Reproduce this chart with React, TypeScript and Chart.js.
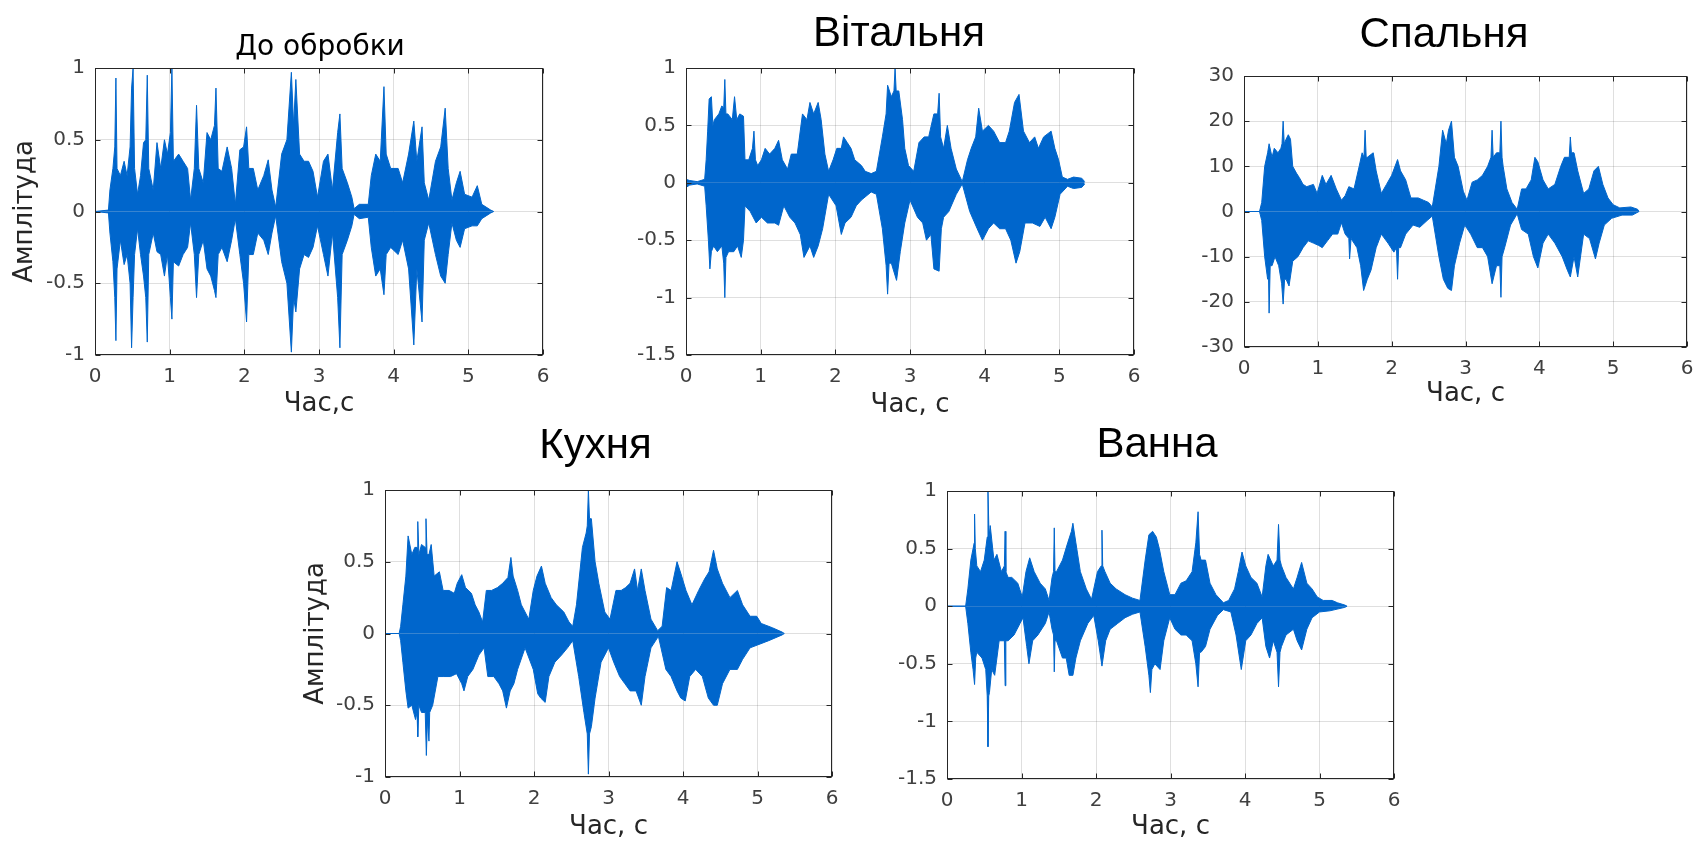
import React, { useEffect, useRef } from "react";
import { Chart, registerables } from "chart.js";

Chart.register(...registerables);

type Pair = [number, number];

const TITLE_FONT = "'Liberation Sans', Arial, Helvetica, sans-serif";
const AXIS_FONT = "'DejaVu Sans', 'Liberation Sans', Arial, sans-serif";
const WAVE = "#0066cc";
const GRID = "rgba(38,38,38,0.15)";
const TICK_COLOR = "#404040";

const xTickMin = 0;
const xTickMax = 6;
const xTickStep = 1;

const titles = ["До обробки", "Вітальня", "Спальня", "Кухня", "Ванна"];
const xLabels = ["Час,с", "Час, с", "Час, с", "Час, с", "Час, с"];
const yLabels = ["Амплітуда", "", "", "Амплітуда", ""];
const yMins = [-1, -1.5, -30, -1, -1.5];
const yMaxs = [1, 1, 30, 1, 1];
const ySteps = [0.5, 0.5, 10, 0.5, 0.5];

// ---- До обробки (upper / lower envelope: [time s, amplitude]) ----
const p1Top: Pair[] = [[0,0],[0.18,0.01],[0.2,0.15],[0.24,0.3],[0.265,0.45],[0.28,0.93],[0.295,0.3],[0.34,0.25],[0.39,0.35],[0.43,0.25],[0.47,0.45],[0.49,0.86],[0.51,1.0],[0.53,0.3],[0.57,0.12],[0.61,0.25],[0.65,0.48],[0.68,0.5],[0.7,0.95],[0.72,0.3],[0.78,0.15],[0.83,0.48],[0.88,0.3],[0.93,0.5],[0.97,0.4],[1.01,0.55],[1.03,1.0],[1.05,0.35],[1.12,0.4],[1.18,0.35],[1.24,0.3],[1.28,0.08],[1.33,0.3],[1.36,0.74],[1.39,0.3],[1.45,0.2],[1.5,0.55],[1.55,0.5],[1.6,0.6],[1.62,0.86],[1.65,0.3],[1.7,0.28],[1.77,0.45],[1.83,0.3],[1.88,0.05],[1.94,0.43],[1.99,0.45],[2.03,0.59],[2.06,0.3],[2.12,0.3],[2.18,0.15],[2.26,0.25],[2.32,0.36],[2.37,0.15],[2.42,0.03],[2.5,0.4],[2.57,0.5],[2.63,0.97],[2.66,0.6],[2.69,0.92],[2.74,0.4],[2.8,0.35],[2.86,0.35],[2.92,0.28],[2.98,0.1],[3.06,0.35],[3.12,0.4],[3.18,0.15],[3.25,0.55],[3.28,0.68],[3.31,0.3],[3.38,0.2],[3.44,0.1],[3.47,0.02],[3.54,0.05],[3.66,0.05],[3.7,0.25],[3.76,0.4],[3.82,0.35],[3.87,0.87],[3.9,0.4],[3.96,0.3],[4.06,0.3],[4.12,0.2],[4.2,0.4],[4.27,0.63],[4.31,0.35],[4.38,0.59],[4.41,0.2],[4.47,0.08],[4.56,0.35],[4.63,0.45],[4.69,0.72],[4.73,0.3],[4.78,0.08],[4.84,0.2],[4.89,0.28],[4.95,0.12],[5.05,0.1],[5.12,0.18],[5.18,0.05],[5.3,0.01],[5.34,0]];
const p1Bot: Pair[] = [[0,0],[0.18,-0.01],[0.2,-0.15],[0.24,-0.35],[0.265,-0.6],[0.28,-0.9],[0.295,-0.4],[0.34,-0.2],[0.39,-0.37],[0.43,-0.3],[0.47,-0.5],[0.49,-0.95],[0.51,-0.6],[0.53,-0.3],[0.57,-0.12],[0.61,-0.3],[0.65,-0.45],[0.68,-0.6],[0.7,-0.91],[0.72,-0.3],[0.78,-0.15],[0.83,-0.28],[0.88,-0.3],[0.93,-0.45],[0.97,-0.3],[1.01,-0.6],[1.03,-0.75],[1.05,-0.35],[1.12,-0.38],[1.18,-0.3],[1.24,-0.25],[1.28,-0.08],[1.33,-0.3],[1.36,-0.6],[1.39,-0.3],[1.45,-0.2],[1.5,-0.4],[1.55,-0.45],[1.6,-0.55],[1.62,-0.6],[1.65,-0.3],[1.7,-0.25],[1.77,-0.35],[1.83,-0.2],[1.88,-0.05],[1.94,-0.3],[1.99,-0.5],[2.03,-0.77],[2.06,-0.3],[2.12,-0.3],[2.18,-0.15],[2.26,-0.2],[2.32,-0.3],[2.37,-0.15],[2.42,-0.03],[2.5,-0.35],[2.57,-0.5],[2.63,-0.98],[2.66,-0.6],[2.69,-0.7],[2.74,-0.4],[2.8,-0.3],[2.86,-0.32],[2.92,-0.25],[2.98,-0.1],[3.06,-0.3],[3.12,-0.45],[3.18,-0.15],[3.25,-0.6],[3.28,-0.95],[3.31,-0.3],[3.38,-0.2],[3.44,-0.1],[3.47,-0.02],[3.54,-0.05],[3.66,-0.04],[3.7,-0.25],[3.76,-0.45],[3.82,-0.4],[3.87,-0.58],[3.9,-0.3],[3.96,-0.25],[4.06,-0.3],[4.12,-0.2],[4.2,-0.4],[4.27,-0.93],[4.31,-0.4],[4.38,-0.77],[4.41,-0.2],[4.47,-0.08],[4.56,-0.3],[4.63,-0.45],[4.69,-0.5],[4.73,-0.3],[4.78,-0.08],[4.84,-0.2],[4.89,-0.25],[4.95,-0.12],[5.05,-0.1],[5.12,-0.1],[5.18,-0.05],[5.3,-0.01],[5.34,0]];

// ---- Вітальня ----
const p2Top: Pair[] = [[0,0.03],[0.05,0.02],[0.15,0.01],[0.25,0.03],[0.27,0.2],[0.29,0.45],[0.31,0.73],[0.34,0.75],[0.36,0.5],[0.38,0.55],[0.44,0.6],[0.48,0.67],[0.505,0.65],[0.52,0.9],[0.535,0.6],[0.56,0.6],[0.62,0.55],[0.65,0.75],[0.68,0.55],[0.72,0.6],[0.77,0.58],[0.79,0.2],[0.84,0.2],[0.89,0.3],[0.91,0.45],[0.93,0.2],[0.96,0.15],[1.01,0.2],[1.06,0.3],[1.12,0.25],[1.19,0.3],[1.24,0.37],[1.29,0.2],[1.36,0.12],[1.41,0.25],[1.49,0.25],[1.56,0.6],[1.62,0.55],[1.66,0.7],[1.71,0.6],[1.77,0.7],[1.81,0.55],[1.86,0.25],[1.91,0.1],[1.97,0.2],[2.02,0.3],[2.08,0.3],[2.11,0.4],[2.16,0.35],[2.21,0.3],[2.26,0.2],[2.35,0.15],[2.4,0.1],[2.48,0.08],[2.55,0.1],[2.63,0.4],[2.68,0.6],[2.7,0.85],[2.75,0.75],[2.785,0.8],[2.8,1.0],[2.815,0.8],[2.85,0.8],[2.9,0.55],[2.93,0.3],[2.98,0.15],[3.05,0.1],[3.12,0.35],[3.19,0.4],[3.25,0.4],[3.32,0.6],[3.37,0.6],[3.39,0.78],[3.41,0.4],[3.45,0.3],[3.5,0.5],[3.55,0.3],[3.62,0.12],[3.7,0.01],[3.77,0.2],[3.82,0.3],[3.88,0.4],[3.92,0.65],[3.97,0.45],[4.05,0.5],[4.12,0.45],[4.2,0.35],[4.28,0.35],[4.33,0.45],[4.4,0.7],[4.46,0.77],[4.52,0.45],[4.6,0.35],[4.67,0.4],[4.72,0.3],[4.79,0.4],[4.89,0.45],[4.94,0.3],[4.99,0.2],[5.04,0.05],[5.11,0.03],[5.19,0.05],[5.3,0.04],[5.34,0.01]];
const p2Bot: Pair[] = [[0,-0.04],[0.05,-0.02],[0.15,-0.01],[0.25,-0.03],[0.27,-0.2],[0.3,-0.5],[0.32,-0.75],[0.34,-0.6],[0.37,-0.55],[0.42,-0.6],[0.48,-0.55],[0.505,-0.7],[0.52,-1.0],[0.535,-0.65],[0.57,-0.6],[0.64,-0.6],[0.69,-0.55],[0.74,-0.65],[0.77,-0.5],[0.79,-0.2],[0.86,-0.25],[0.94,-0.35],[1.01,-0.3],[1.09,-0.35],[1.19,-0.35],[1.24,-0.37],[1.31,-0.2],[1.39,-0.3],[1.46,-0.35],[1.53,-0.45],[1.58,-0.65],[1.66,-0.55],[1.71,-0.65],[1.77,-0.55],[1.83,-0.4],[1.91,-0.1],[2.01,-0.2],[2.08,-0.45],[2.13,-0.35],[2.21,-0.3],[2.28,-0.2],[2.35,-0.15],[2.48,-0.08],[2.55,-0.1],[2.63,-0.4],[2.68,-0.72],[2.7,-0.97],[2.72,-0.7],[2.75,-0.7],[2.82,-0.85],[2.87,-0.6],[2.93,-0.35],[3.0,-0.15],[3.1,-0.3],[3.17,-0.35],[3.22,-0.5],[3.28,-0.45],[3.32,-0.75],[3.39,-0.77],[3.42,-0.4],[3.45,-0.3],[3.52,-0.25],[3.62,-0.1],[3.7,-0.01],[3.8,-0.25],[3.9,-0.4],[3.97,-0.5],[4.05,-0.4],[4.12,-0.35],[4.2,-0.4],[4.28,-0.4],[4.35,-0.5],[4.42,-0.7],[4.47,-0.6],[4.54,-0.35],[4.64,-0.35],[4.74,-0.38],[4.81,-0.3],[4.89,-0.4],[4.94,-0.3],[5.01,-0.1],[5.11,-0.03],[5.19,-0.05],[5.3,-0.04],[5.34,-0.01]];

// ---- Спальня ----
const p3Top: Pair[] = [[0,0],[0.21,0],[0.24,2],[0.28,10],[0.32,13],[0.34,15],[0.38,12],[0.41,14],[0.46,13],[0.5,14],[0.515,15],[0.53,20],[0.545,15],[0.57,16],[0.6,17],[0.63,16],[0.66,10],[0.71,8.5],[0.75,7.5],[0.8,6],[0.85,5.5],[0.94,6],[0.99,4],[1.06,8],[1.11,6],[1.18,8],[1.25,5],[1.32,2.5],[1.37,3.5],[1.42,5.5],[1.49,5],[1.56,10],[1.6,13],[1.625,12],[1.64,18],[1.655,12],[1.67,12],[1.75,13],[1.79,9],[1.86,4],[1.93,6],[2.0,8],[2.08,11.5],[2.12,9],[2.19,7],[2.26,3],[2.36,3],[2.43,2.5],[2.5,2],[2.55,1],[2.59,5],[2.64,10],[2.69,18],[2.74,15],[2.77,18],[2.81,20],[2.85,12],[2.9,10],[2.97,4.5],[3.02,2.5],[3.09,6.5],[3.16,7],[3.23,8],[3.3,10],[3.345,12],[3.36,18],[3.375,12],[3.42,13],[3.465,13],[3.48,20],[3.495,12],[3.51,10],[3.56,5],[3.63,2],[3.7,0.5],[3.76,5],[3.82,5],[3.89,7],[3.94,12],[3.98,11],[4.05,7],[4.12,5],[4.21,6],[4.29,10],[4.34,12],[4.405,12],[4.42,16.5],[4.435,13],[4.47,13],[4.52,9],[4.6,4],[4.67,5],[4.74,9],[4.8,10],[4.86,6],[4.93,3],[5.0,1.5],[5.09,0.8],[5.24,1],[5.33,0.5],[5.35,0]];
const p3Bot: Pair[] = [[0,0],[0.21,0],[0.24,-2],[0.28,-10],[0.32,-15],[0.33,-12],[0.34,-22.5],[0.355,-12],[0.38,-12],[0.42,-10],[0.47,-12],[0.51,-16],[0.53,-20.5],[0.55,-15],[0.57,-15],[0.61,-16.5],[0.66,-11],[0.73,-10],[0.8,-8],[0.87,-6.5],[0.94,-7],[1.01,-7.5],[1.06,-8],[1.13,-6.5],[1.2,-5],[1.27,-5],[1.32,-2.5],[1.37,-5],[1.42,-6],[1.43,-10.5],[1.45,-6],[1.53,-8],[1.58,-12],[1.62,-17.5],[1.67,-15],[1.72,-13],[1.79,-8],[1.86,-5],[1.95,-7],[2.03,-9],[2.065,-8],[2.08,-15],[2.095,-8],[2.12,-8],[2.19,-5],[2.29,-3],[2.38,-3.5],[2.48,-2],[2.55,-1],[2.59,-5],[2.64,-10],[2.7,-15],[2.76,-17],[2.81,-17.5],[2.85,-12],[2.92,-7],[2.99,-3],[3.07,-5],[3.16,-8],[3.23,-8],[3.3,-10],[3.36,-16],[3.42,-12],[3.465,-12],[3.48,-19],[3.495,-10],[3.53,-8],[3.61,-3],[3.7,-0.5],[3.76,-4],[3.85,-5],[3.92,-10],[3.98,-12.5],[4.05,-7],[4.12,-5],[4.21,-7],[4.31,-10],[4.38,-13],[4.42,-14.5],[4.47,-10],[4.52,-14.5],[4.6,-5],[4.68,-6],[4.76,-10.5],[4.81,-7],[4.88,-3],[4.98,-1.5],[5.12,-0.8],[5.26,-0.8],[5.35,0]];

// ---- Кухня ----
const p4Top: Pair[] = [[0,0],[0.19,0],[0.21,0.05],[0.24,0.2],[0.28,0.4],[0.31,0.68],[0.36,0.55],[0.4,0.6],[0.43,0.6],[0.44,0.78],[0.455,0.55],[0.49,0.62],[0.54,0.6],[0.55,0.8],[0.565,0.55],[0.59,0.55],[0.62,0.62],[0.66,0.4],[0.73,0.43],[0.78,0.3],[0.86,0.3],[0.93,0.28],[0.97,0.35],[1.03,0.41],[1.08,0.32],[1.16,0.28],[1.21,0.2],[1.26,0.15],[1.31,0.08],[1.36,0.3],[1.43,0.3],[1.51,0.32],[1.58,0.35],[1.65,0.39],[1.69,0.53],[1.72,0.4],[1.78,0.3],[1.83,0.2],[1.93,0.1],[1.99,0.3],[2.04,0.4],[2.1,0.47],[2.15,0.35],[2.23,0.25],[2.3,0.2],[2.4,0.15],[2.47,0.08],[2.52,0.05],[2.57,0.2],[2.65,0.6],[2.7,0.7],[2.715,0.75],[2.73,1.0],[2.745,0.8],[2.77,0.8],[2.82,0.5],[2.87,0.35],[2.95,0.15],[3.02,0.1],[3.1,0.3],[3.17,0.3],[3.23,0.32],[3.29,0.35],[3.35,0.45],[3.39,0.3],[3.44,0.45],[3.49,0.3],[3.57,0.1],[3.66,0.02],[3.72,0.05],[3.78,0.32],[3.84,0.3],[3.92,0.5],[3.97,0.42],[4.04,0.3],[4.12,0.2],[4.21,0.3],[4.29,0.38],[4.35,0.43],[4.41,0.58],[4.46,0.45],[4.53,0.35],[4.63,0.25],[4.73,0.3],[4.8,0.2],[4.9,0.12],[4.99,0.12],[5.05,0.07],[5.2,0.04],[5.33,0.01],[5.36,0]];
const p4Bot: Pair[] = [[0,0],[0.19,0],[0.21,-0.05],[0.24,-0.2],[0.28,-0.4],[0.31,-0.52],[0.36,-0.5],[0.41,-0.6],[0.43,-0.55],[0.44,-0.72],[0.455,-0.5],[0.49,-0.55],[0.54,-0.55],[0.555,-0.85],[0.57,-0.6],[0.59,-0.75],[0.6,-0.55],[0.64,-0.5],[0.71,-0.3],[0.78,-0.3],[0.88,-0.3],[0.96,-0.28],[1.03,-0.35],[1.06,-0.4],[1.11,-0.3],[1.18,-0.25],[1.26,-0.15],[1.33,-0.1],[1.38,-0.3],[1.46,-0.3],[1.53,-0.35],[1.58,-0.4],[1.63,-0.52],[1.68,-0.4],[1.73,-0.35],[1.78,-0.25],[1.88,-0.1],[1.99,-0.25],[2.05,-0.42],[2.09,-0.45],[2.15,-0.48],[2.2,-0.3],[2.28,-0.2],[2.37,-0.15],[2.45,-0.1],[2.52,-0.05],[2.6,-0.3],[2.67,-0.55],[2.715,-0.7],[2.73,-0.98],[2.745,-0.7],[2.77,-0.65],[2.82,-0.45],[2.9,-0.2],[3.0,-0.1],[3.07,-0.2],[3.15,-0.3],[3.22,-0.35],[3.29,-0.4],[3.37,-0.4],[3.44,-0.5],[3.49,-0.3],[3.57,-0.1],[3.67,-0.02],[3.77,-0.25],[3.84,-0.3],[3.92,-0.4],[3.97,-0.45],[4.03,-0.47],[4.09,-0.3],[4.17,-0.25],[4.26,-0.3],[4.34,-0.45],[4.41,-0.5],[4.46,-0.5],[4.53,-0.35],[4.63,-0.25],[4.73,-0.25],[4.8,-0.18],[4.9,-0.1],[5.0,-0.08],[5.15,-0.05],[5.33,-0.01],[5.36,0]];

// ---- Ванна ----
const p5Top: Pair[] = [[0,0],[0.25,0],[0.28,0.15],[0.32,0.4],[0.35,0.5],[0.365,0.55],[0.37,0.8],[0.38,0.5],[0.4,0.35],[0.45,0.3],[0.5,0.4],[0.54,0.6],[0.55,1.0],[0.565,0.6],[0.58,0.7],[0.63,0.4],[0.67,0.45],[0.73,0.3],[0.77,0.35],[0.78,0.65],[0.79,0.3],[0.82,0.25],[0.87,0.25],[0.95,0.2],[1.01,0.08],[1.06,0.3],[1.11,0.42],[1.17,0.3],[1.25,0.2],[1.32,0.15],[1.37,0.05],[1.41,0.25],[1.43,0.3],[1.44,0.68],[1.45,0.3],[1.47,0.3],[1.55,0.4],[1.62,0.55],[1.67,0.65],[1.69,0.72],[1.73,0.55],[1.79,0.3],[1.87,0.15],[1.94,0.06],[2.02,0.3],[2.07,0.35],[2.08,0.66],[2.09,0.35],[2.12,0.3],[2.19,0.2],[2.27,0.15],[2.39,0.1],[2.49,0.07],[2.59,0.05],[2.66,0.4],[2.71,0.62],[2.76,0.65],[2.81,0.6],[2.85,0.5],[2.91,0.3],[2.99,0.1],[3.06,0.1],[3.14,0.2],[3.21,0.22],[3.29,0.3],[3.34,0.55],[3.37,0.82],[3.39,0.45],[3.41,0.4],[3.47,0.4],[3.53,0.2],[3.61,0.1],[3.71,0.03],[3.78,0.05],[3.86,0.15],[3.91,0.3],[3.96,0.47],[4.01,0.35],[4.08,0.25],[4.16,0.2],[4.23,0.08],[4.28,0.35],[4.31,0.45],[4.38,0.35],[4.43,0.4],[4.45,0.71],[4.47,0.4],[4.49,0.35],[4.55,0.25],[4.65,0.15],[4.7,0.25],[4.76,0.38],[4.83,0.2],[4.9,0.15],[4.97,0.08],[5.05,0.05],[5.17,0.05],[5.24,0.03],[5.34,0.01],[5.37,0]];
const p5Bot: Pair[] = [[0,0],[0.25,0],[0.28,-0.15],[0.32,-0.4],[0.35,-0.55],[0.37,-0.68],[0.385,-0.45],[0.4,-0.4],[0.47,-0.45],[0.52,-0.55],[0.54,-0.78],[0.55,-1.22],[0.56,-0.78],[0.57,-0.75],[0.6,-0.55],[0.64,-0.6],[0.7,-0.3],[0.77,-0.3],[0.78,-0.69],[0.79,-0.3],[0.82,-0.3],[0.9,-0.25],[0.98,-0.15],[1.02,-0.1],[1.07,-0.35],[1.1,-0.5],[1.15,-0.3],[1.22,-0.25],[1.32,-0.15],[1.37,-0.05],[1.41,-0.2],[1.43,-0.25],[1.44,-0.57],[1.45,-0.3],[1.47,-0.3],[1.55,-0.45],[1.6,-0.45],[1.64,-0.6],[1.69,-0.6],[1.73,-0.45],[1.79,-0.3],[1.89,-0.15],[1.97,-0.08],[2.03,-0.3],[2.08,-0.52],[2.13,-0.3],[2.19,-0.2],[2.29,-0.15],[2.39,-0.1],[2.49,-0.07],[2.59,-0.05],[2.66,-0.35],[2.71,-0.6],[2.73,-0.75],[2.75,-0.55],[2.79,-0.5],[2.86,-0.55],[2.91,-0.3],[2.99,-0.1],[3.06,-0.2],[3.14,-0.25],[3.21,-0.25],[3.29,-0.3],[3.34,-0.5],[3.37,-0.7],[3.39,-0.4],[3.41,-0.4],[3.47,-0.35],[3.53,-0.2],[3.63,-0.08],[3.71,-0.03],[3.81,-0.05],[3.88,-0.25],[3.95,-0.55],[4.01,-0.3],[4.08,-0.25],[4.16,-0.15],[4.23,-0.1],[4.28,-0.35],[4.33,-0.45],[4.38,-0.3],[4.43,-0.4],[4.45,-0.7],[4.47,-0.4],[4.49,-0.35],[4.55,-0.25],[4.65,-0.2],[4.7,-0.3],[4.76,-0.38],[4.83,-0.2],[4.9,-0.1],[5.0,-0.05],[5.14,-0.04],[5.34,-0.01],[5.37,0]];

const envelopes: [Pair[], Pair[]][] = [
  [p1Top, p1Bot],
  [p2Top, p2Bot],
  [p3Top, p3Bot],
  [p4Top, p4Bot],
  [p5Top, p5Bot],
];

// page layout of each panel: canvas box, fixed axis sizes, title placement
interface Layout {
  left: number; top: number; width: number; height: number;
  padTop: number; yW: number; xH: number;
  titleX: number; titleBase: number; titleFont: string;
}
const PAD_RIGHT = 18;
const layouts: Layout[] = [
  { left: 10, top: 20, width: 551, height: 400, padTop: 48, yW: 85, xH: 65, titleX: 320, titleBase: 55, titleFont: `normal 28px ${AXIS_FONT}` },
  { left: 616, top: 0, width: 536, height: 421, padTop: 68, yW: 70, xH: 66, titleX: 899, titleBase: 46, titleFont: `normal 42px ${TITLE_FONT}` },
  { left: 1170, top: 0, width: 535, height: 410, padTop: 76, yW: 74, xH: 63, titleX: 1444, titleBase: 46.5, titleFont: `normal 42px ${TITLE_FONT}` },
  { left: 301, top: 420, width: 549, height: 423, padTop: 70, yW: 84, xH: 66, titleX: 595.5, titleBase: 458, titleFont: `normal 42px ${TITLE_FONT}` },
  { left: 877, top: 420, width: 535, height: 423, padTop: 71, yW: 70, xH: 64, titleX: 1157, titleBase: 457, titleFont: `normal 42px ${TITLE_FONT}` },
];

const framePlugin = {
  id: "matlabFrame",
  afterDraw(chart: any, _args: any, opts: any) {
    const { ctx, chartArea } = chart;
    const l = Math.round(chartArea.left) + 0.5;
    const r = Math.round(chartArea.right) - 0.5;
    const t = Math.round(chartArea.top) + 0.5;
    const b = Math.round(chartArea.bottom) - 0.5;
    ctx.save();
    ctx.strokeStyle = "#262626";
    ctx.lineWidth = 1;
    ctx.strokeRect(l, t, r - l, b - t);
    ctx.beginPath();
    const xs = chart.scales.x;
    const ys = chart.scales.y;
    xs.ticks.forEach((tk: any) => {
      const px = Math.round(xs.getPixelForValue(tk.value)) + 0.5;
      ctx.moveTo(px, b); ctx.lineTo(px, b - 5);
      ctx.moveTo(px, t); ctx.lineTo(px, t + 5);
    });
    ys.ticks.forEach((tk: any) => {
      const py = Math.round(ys.getPixelForValue(tk.value)) + 0.5;
      ctx.moveTo(l, py); ctx.lineTo(l + 5, py);
      ctx.moveTo(r, py); ctx.lineTo(r - 5, py);
    });
    ctx.stroke();
    // panel title
    if (opts && opts.text) {
      ctx.fillStyle = "#000000";
      ctx.font = opts.font;
      ctx.textAlign = "center";
      ctx.textBaseline = "alphabetic";
      ctx.fillText(opts.text, opts.x, opts.y);
    }
    ctx.restore();
  },
};

function Panel({ idx }: { idx: number }) {
  const ref = useRef<HTMLCanvasElement | null>(null);
  const lay = layouts[idx];
  useEffect(() => {
    if (!ref.current) return;
    const [top, bot] = envelopes[idx];
    const toXY = (arr: Pair[]) => arr.map(([x, y]) => ({ x, y }));
    const chart = new Chart(ref.current, {
      type: "line",
      data: {
        datasets: [
          { data: toXY(top), borderColor: WAVE, backgroundColor: WAVE, borderWidth: 1, pointRadius: 0, fill: "origin", tension: 0 },
          { data: toXY(bot), borderColor: WAVE, backgroundColor: WAVE, borderWidth: 1, pointRadius: 0, fill: "origin", tension: 0 },
        ],
      } as any,
      options: {
        animation: false,
        responsive: false,
        maintainAspectRatio: false,
        devicePixelRatio: 1,
        layout: { padding: { left: 0, top: lay.padTop, right: PAD_RIGHT, bottom: 0 } },
        plugins: {
          legend: { display: false },
          tooltip: { enabled: false },
          title: { display: false },
          matlabFrame: {
            text: titles[idx],
            font: lay.titleFont,
            x: lay.titleX - lay.left,
            y: lay.titleBase - lay.top,
          },
        },
        scales: {
          x: {
            type: "linear",
            min: xTickMin,
            max: xTickMax,
            ticks: {
              stepSize: xTickStep,
              color: TICK_COLOR,
              font: { family: AXIS_FONT, size: 20 },
              padding: 10,
              maxRotation: 0,
              autoSkip: false,
              callback: (v: any) => String(v),
            },
            grid: { color: GRID, drawTicks: false },
            border: { display: false },
            title: {
              display: true,
              text: xLabels[idx],
              color: "#262626",
              font: { family: AXIS_FONT, size: 26, lineHeight: 1.2 },
              padding: 0,
            },
            afterFit: (s: any) => { s.height = lay.xH; },
          },
          y: {
            type: "linear",
            min: yMins[idx],
            max: yMaxs[idx],
            ticks: {
              stepSize: ySteps[idx],
              color: TICK_COLOR,
              font: { family: AXIS_FONT, size: 20 },
              padding: 10,
              autoSkip: false,
              callback: (v: any) => String(v),
            },
            grid: { color: GRID, drawTicks: false },
            border: { display: false },
            title: {
              display: yLabels[idx] !== "",
              text: yLabels[idx],
              color: "#262626",
              font: { family: AXIS_FONT, size: 26, lineHeight: 1.2 },
              padding: 0,
            },
            afterFit: (s: any) => { s.width = lay.yW; },
          },
        },
      } as any,
      plugins: [framePlugin],
    });
    return () => chart.destroy();
  }, [idx]);
  return (
    <div style={{ position: "absolute", left: lay.left, top: lay.top, width: lay.width, height: lay.height }}>
      <canvas ref={ref} width={lay.width} height={lay.height} style={{ width: lay.width, height: lay.height, display: "block" }} />
    </div>
  );
}

export default function App() {
  useEffect(() => {
    document.body.style.margin = "0";
    document.body.style.overflow = "hidden";
    document.body.style.background = "#ffffff";
  }, []);
  return (
    <div style={{ position: "relative", width: 1699, height: 843, overflow: "hidden", background: "#ffffff" }}>
      {titles.map((_, i) => (
        <Panel key={i} idx={i} />
      ))}
    </div>
  );
}
